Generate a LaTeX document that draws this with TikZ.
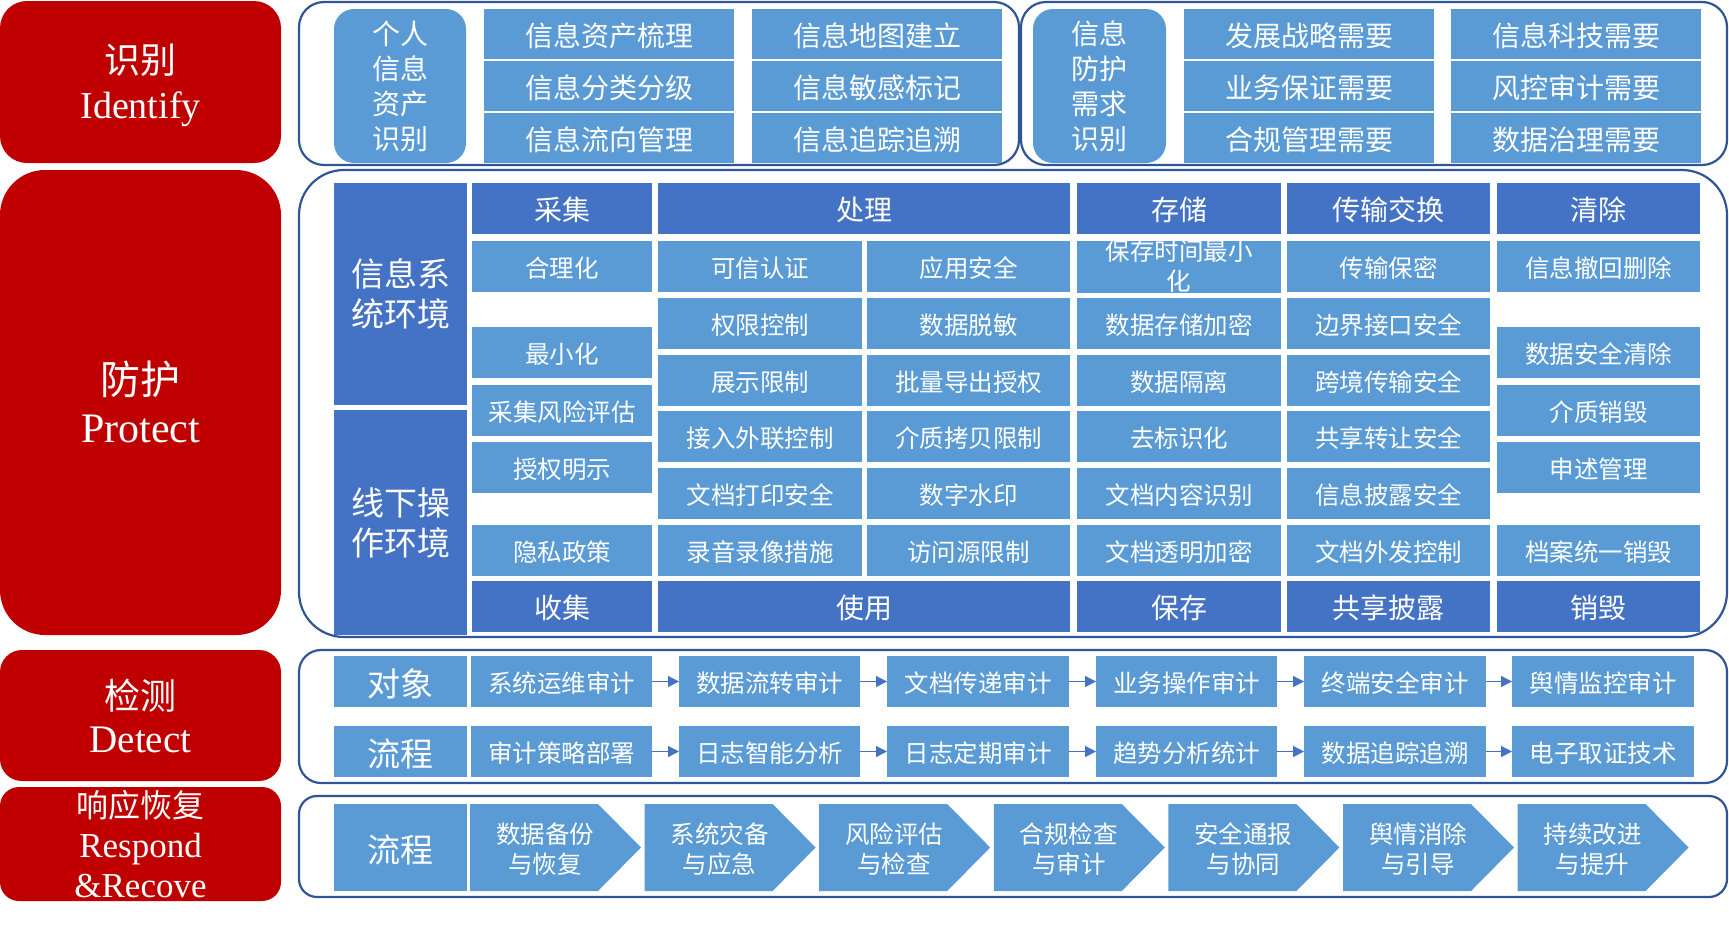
\documentclass[tikz,border=0pt]{standalone}
\usepackage{fontspec}
\setmainfont{Noto Sans CJK SC}
\newfontfamily\enfont{Liberation Serif}
\usetikzlibrary{arrows.meta}
\definecolor{redB}{HTML}{C00000}
\definecolor{lb}{HTML}{5B9BD5}
\definecolor{db}{HTML}{4472C4}
\definecolor{fr}{HTML}{2F5597}
\newcommand{\cellbox}[7]{%
  \pgfmathsetmacro{\cbw}{#5-#3}%
  \pgfmathsetmacro{\cbh}{#6-#4}%
  \pgfmathsetmacro{\cbx}{(#3+#5)/2}%
  \pgfmathsetmacro{\cby}{(#4+#6)/2}%
  \node[#2, minimum width=\cbw pt, minimum height=\cbh pt] (#1) at (\cbx,\cby) {#7};%
}
\tikzset{
  cellbase/.style={text=white, inner sep=0pt, outer sep=0pt, align=center},
  redbox/.style={cellbase, fill=redB},
  outerframe/.style={draw=fr, line width=2.2pt, inner sep=0pt, outer sep=0pt},
  lcell/.style={cellbase, fill=lb, font=\fontsize{24.5}{30}\selectfont, text height=22pt, text depth=0.5pt},
  wrapcell/.style={cellbase, fill=lb, font=\fontsize{24.5}{30}\selectfont},
  icell/.style={cellbase, fill=lb, font=\fontsize{28}{35}\selectfont, text height=25pt, text depth=0.6pt},
  sidecell/.style={cellbase, fill=lb, rounded corners=20pt, font=\fontsize{28}{35}\selectfont},
  dcell/.style={cellbase, fill=db, font=\fontsize{28}{34}\selectfont, text height=25pt, text depth=0.6pt},
  envcell/.style={cellbase, fill=db, font=\fontsize{33}{40}\selectfont},
  bigl/.style={cellbase, fill=lb, font=\fontsize{33}{40}\selectfont, text height=30pt, text depth=0.7pt},
  flow/.style={-{Triangle[length=11pt,width=11pt]}, draw=db, line width=1.4pt},
  chev/.style={fill=lb},
  chevtext/.style={cellbase, font=\fontsize{24.5}{30}\selectfont},
  redtext/.style={cellbase}
}
\begin{document}
\begin{tikzpicture}[x=1pt,y=-1pt]
\useasboundingbox (0,0) rectangle (1729,924);

% ---------- red stage boxes ----------
\cellbox{rI}{redbox,rounded corners=27pt}{0}{1}{281}{163}{}
\cellbox{rP}{redbox,rounded corners=45pt}{0}{170}{281}{635}{}
\cellbox{rD}{redbox,rounded corners=22pt}{0}{650}{281}{781}{}
\cellbox{rR}{redbox,rounded corners=19pt}{0}{787}{281}{901}{}
\node[redtext, font=\fontsize{36}{45}\selectfont, yshift=-3pt] (tI) at (rI.center) {识别\\{\enfont\fontsize{38}{45}\selectfont Identify}};
\node[redtext, font=\fontsize{40}{48}\selectfont, yshift=1pt] (tP) at (rP.center) {防护\\{\enfont\fontsize{42}{48}\selectfont Protect}};
\node[redtext, font=\fontsize{36}{43}\selectfont, yshift=0pt] (tD) at (rD.center) {检测\\{\enfont\fontsize{39}{43}\selectfont Detect}};
\node[redtext, font=\fontsize{32}{40}\selectfont, yshift=0pt] (tR) at (rR.center) {响应恢复\\{\enfont\fontsize{35}{40}\selectfont Respond}\\{\enfont\fontsize{35}{40}\selectfont \&Recove}};

% ---------- frames ----------
\cellbox{fI1}{outerframe,rounded corners=25pt}{299}{2}{1019}{165}{}
\cellbox{fI2}{outerframe,rounded corners=25pt}{1021}{2}{1727}{165}{}
\cellbox{fP}{outerframe,rounded corners=45pt}{299}{170}{1727}{637}{}
\cellbox{fD}{outerframe,rounded corners=22pt}{299}{650}{1727}{783}{}
\cellbox{fR}{outerframe,rounded corners=18pt}{299}{796}{1727}{897}{}

% ---------- Identify ----------
\cellbox{pI}{sidecell}{334}{9}{466}{163}{个人\\信息\\资产\\识别}
\cellbox{iA1}{icell}{484}{9}{734}{59}{信息资产梳理}
\cellbox{iA2}{icell}{484}{61}{734}{111}{信息分类分级}
\cellbox{iA3}{icell}{484}{113}{734}{163}{信息流向管理}
\cellbox{iB1}{icell}{752}{9}{1002}{59}{信息地图建立}
\cellbox{iB2}{icell}{752}{61}{1002}{111}{信息敏感标记}
\cellbox{iB3}{icell}{752}{113}{1002}{163}{信息追踪追溯}
\cellbox{pN}{sidecell}{1033}{9}{1166}{163}{信息\\防护\\需求\\识别}
\cellbox{iC1}{icell}{1184}{9}{1434}{59}{发展战略需要}
\cellbox{iC2}{icell}{1184}{61}{1434}{111}{业务保证需要}
\cellbox{iC3}{icell}{1184}{113}{1434}{163}{合规管理需要}
\cellbox{iD1}{icell}{1451}{9}{1701}{59}{信息科技需要}
\cellbox{iD2}{icell}{1451}{61}{1701}{111}{风控审计需要}
\cellbox{iD3}{icell}{1451}{113}{1701}{163}{数据治理需要}

% ---------- Protect ----------
\cellbox{env1}{envcell}{334}{183}{467}{405}{信息系\\统环境}
\cellbox{env2}{envcell}{334}{410}{467}{635}{线下操\\作环境}
% headers
\cellbox{h1}{dcell}{472}{183}{652}{234}{采集}
\cellbox{h2}{dcell}{658}{183}{1070}{234}{处理}
\cellbox{h3}{dcell}{1077}{183}{1281}{234}{存储}
\cellbox{h4}{dcell}{1287}{183}{1490}{234}{传输交换}
\cellbox{h5}{dcell}{1497}{183}{1700}{234}{清除}
% column 1
\cellbox{a1}{lcell}{472}{241}{652}{292}{合理化}
\cellbox{a2}{lcell}{472}{327}{652}{378}{最小化}
\cellbox{a3}{lcell}{472}{385}{652}{436}{采集风险评估}
\cellbox{a4}{lcell}{472}{442}{652}{493}{授权明示}
\cellbox{a5}{lcell}{472}{525}{652}{576}{隐私政策}
% column 2
\cellbox{b1}{lcell}{658}{241}{862}{292}{可信认证}
\cellbox{b2}{lcell}{658}{298}{862}{349}{权限控制}
\cellbox{b3}{lcell}{658}{355}{862}{406}{展示限制}
\cellbox{b4}{lcell}{658}{411}{862}{462}{接入外联控制}
\cellbox{b5}{lcell}{658}{468}{862}{519}{文档打印安全}
\cellbox{b6}{lcell}{658}{525}{862}{576}{录音录像措施}
% column 3
\cellbox{c1}{lcell}{867}{241}{1070}{292}{应用安全}
\cellbox{c2}{lcell}{867}{298}{1070}{349}{数据脱敏}
\cellbox{c3}{lcell}{867}{355}{1070}{406}{批量导出授权}
\cellbox{c4}{lcell}{867}{411}{1070}{462}{介质拷贝限制}
\cellbox{c5}{lcell}{867}{468}{1070}{519}{数字水印}
\cellbox{c6}{lcell}{867}{525}{1070}{576}{访问源限制}
% column 4
\begin{scope}
\clip (1077,241) rectangle (1281,292);
\cellbox{d1}{wrapcell}{1077}{241}{1281}{292}{保存时间最小\\化}
\end{scope}
\cellbox{d2}{lcell}{1077}{298}{1281}{349}{数据存储加密}
\cellbox{d3}{lcell}{1077}{355}{1281}{406}{数据隔离}
\cellbox{d4}{lcell}{1077}{411}{1281}{462}{去标识化}
\cellbox{d5}{lcell}{1077}{468}{1281}{519}{文档内容识别}
\cellbox{d6}{lcell}{1077}{525}{1281}{576}{文档透明加密}
% column 5
\cellbox{e1}{lcell}{1287}{241}{1490}{292}{传输保密}
\cellbox{e2}{lcell}{1287}{298}{1490}{349}{边界接口安全}
\cellbox{e3}{lcell}{1287}{355}{1490}{406}{跨境传输安全}
\cellbox{e4}{lcell}{1287}{411}{1490}{462}{共享转让安全}
\cellbox{e5}{lcell}{1287}{468}{1490}{519}{信息披露安全}
\cellbox{e6}{lcell}{1287}{525}{1490}{576}{文档外发控制}
% column 6
\cellbox{g1}{lcell}{1497}{241}{1700}{292}{信息撤回删除}
\cellbox{g2}{lcell}{1497}{327}{1700}{378}{数据安全清除}
\cellbox{g3}{lcell}{1497}{385}{1700}{436}{介质销毁}
\cellbox{g4}{lcell}{1497}{442}{1700}{493}{申述管理}
\cellbox{g5}{lcell}{1497}{525}{1700}{576}{档案统一销毁}
% footers
\cellbox{k1}{dcell}{472}{581}{652}{632}{收集}
\cellbox{k2}{dcell}{658}{581}{1070}{632}{使用}
\cellbox{k3}{dcell}{1077}{581}{1281}{632}{保存}
\cellbox{k4}{dcell}{1287}{581}{1490}{632}{共享披露}
\cellbox{k5}{dcell}{1497}{581}{1700}{632}{销毁}

% ---------- Detect ----------
\cellbox{obj}{bigl}{334}{656}{467}{707}{对象}
\cellbox{prc}{bigl}{334}{726}{467}{777}{流程}
\cellbox{m1}{lcell}{471}{656}{652}{707}{系统运维审计}
\cellbox{m2}{lcell}{679}{656}{860}{707}{数据流转审计}
\cellbox{m3}{lcell}{887}{656}{1069}{707}{文档传递审计}
\cellbox{m4}{lcell}{1096}{656}{1277}{707}{业务操作审计}
\cellbox{m5}{lcell}{1304}{656}{1486}{707}{终端安全审计}
\cellbox{m6}{lcell}{1512}{656}{1694}{707}{舆情监控审计}
\cellbox{n1}{lcell}{471}{726}{652}{777}{审计策略部署}
\cellbox{n2}{lcell}{679}{726}{860}{777}{日志智能分析}
\cellbox{n3}{lcell}{887}{726}{1069}{777}{日志定期审计}
\cellbox{n4}{lcell}{1096}{726}{1277}{777}{趋势分析统计}
\cellbox{n5}{lcell}{1304}{726}{1486}{777}{数据追踪追溯}
\cellbox{n6}{lcell}{1512}{726}{1694}{777}{电子取证技术}
\foreach \i/\j in {1/2,2/3,3/4,4/5,5/6}{
  \draw[flow] (m\i.east) -- (m\j.west);
  \draw[flow] (n\i.east) -- (n\j.west);
}

% ---------- Respond ----------
\cellbox{prc2}{bigl}{334}{804}{467}{891}{流程}
\foreach \k/\t in {0/{数据备份\\与恢复},1/{系统灾备\\与应急},2/{风险评估\\与检查},3/{合规检查\\与审计},4/{安全通报\\与协同},5/{舆情消除\\与引导},6/{持续改进\\与提升}}{
  \pgfmathsetmacro{\L}{470+174.6*\k}
  \fill[chev] (\L,804) -- (\L+128,804) -- (\L+171,847.5) -- (\L+128,891) -- (\L,891) -- cycle;
  \node[chevtext] (s\k) at (\L+75,849) {\t};
}
\end{tikzpicture}
\end{document}
